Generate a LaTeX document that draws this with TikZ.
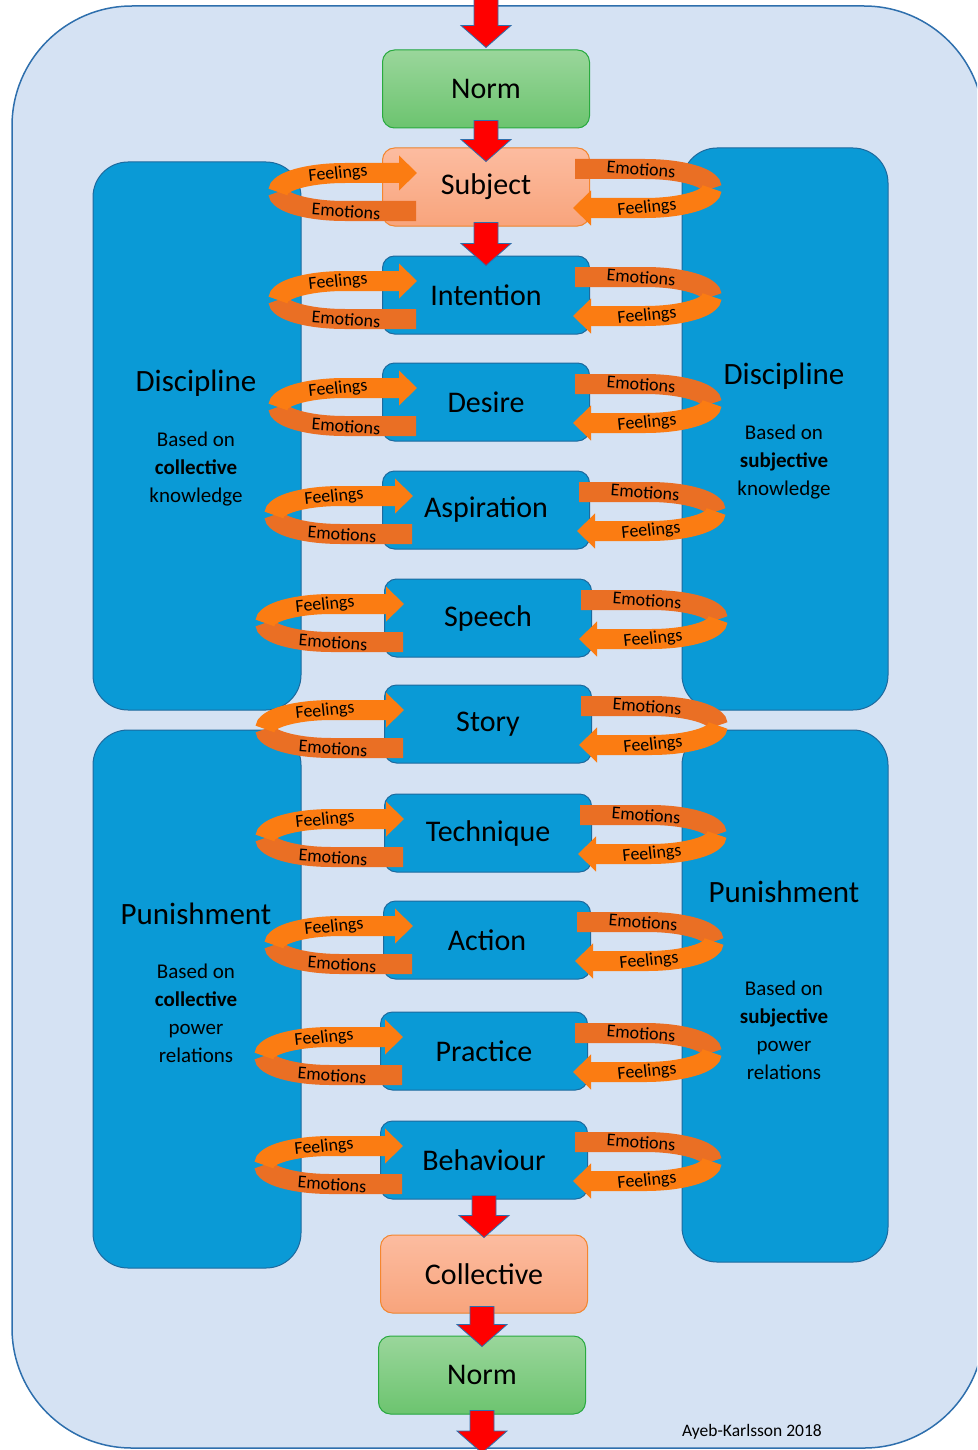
\documentclass[tikz,border=0pt]{standalone}
\usepackage{fontspec}
\setmainfont{Carlito}
\usetikzlibrary{arrows.meta, calc}

\definecolor{bgblue}{HTML}{D5E2F3}
\definecolor{bgline}{HTML}{2E6FAD}
\definecolor{panelblue}{HTML}{0A9AD6}
\definecolor{panelline}{HTML}{1D6A9E}
\definecolor{normtop}{HTML}{9AD69B}
\definecolor{normbot}{HTML}{6CC46F}
\definecolor{normline}{HTML}{2AAA3F}
\definecolor{salmontop}{HTML}{FCBCA0}
\definecolor{salmonbot}{HTML}{F8A47C}
\definecolor{salmonline}{HTML}{F5862E}
\definecolor{ribbonfront}{HTML}{FB7C12}
\definecolor{ribbonback}{HTML}{EA6F24}
\definecolor{arrowred}{HTML}{FF0000}

\tikzset{
  stagebox/.style={draw=panelline, fill=panelblue, line width=1pt, rounded corners=12pt,
    minimum width=207pt, minimum height=78pt, font=\fontsize{30}{36}\selectfont},
  normbox/.style={stagebox, draw=normline, top color=normtop, bottom color=normbot},
  selfbox/.style={stagebox, draw=salmonline, top color=salmontop, bottom color=salmonbot},
  panel/.style={draw=panelline, fill=panelblue, line width=1pt, rounded corners=35pt},
  panelhead/.style={font=\fontsize{31}{36}\selectfont},
  paneltext/.style={align=center, font=\fontsize{21}{28}\selectfont},
  redarrow/.style={fill=arrowred, draw=bgline, line width=0.8pt, line join=miter},
  ribbon/.style={line width=20pt},
  ribbontext/.style={inner sep=0pt, font=\fontsize{18}{20}\selectfont},
  credit/.style={font=\fontsize{17.5}{20}\selectfont},
}

% block arrow from shaft top #1 down to tip #2
\newcommand{\redarrow}[2]{%
  \draw[redarrow] let \p1=#1, \p2=#2 in
    (\x2-12pt,\y1) -- (\x2+12pt,\y1) -- (\x2+12pt,\y2+22pt) -- (\x2+25pt,\y2+22pt)
    -- (\x2,\y2) -- (\x2-25pt,\y2+22pt) -- (\x2-12pt,\y2+22pt) -- cycle;}

% feelings/emotions loops on both sides of a stage box
\newcommand{\feelingloops}[3]{%
  \begin{scope}[shift={(#1.center)}]
    \begin{scope}[xshift=#2]
      \draw[ribbon, ribbonback] (-70,-24) -- (-141,-24)
        arc[start angle=270, end angle=180, x radius=67pt, y radius=19pt];
      \draw[ribbon, ribbonfront, -{Triangle[length=18pt, width=34pt]}] (-208,-5)
        arc[start angle=180, end angle=90, x radius=67pt, y radius=19pt] -- (-69,14);
      \node[ribbontext, rotate=6] at (-148,13) {Feelings};
      \node[ribbontext, rotate=-4] at (-140,-24) {Emotions};
    \end{scope}
    \begin{scope}[xshift=#3]
      \draw[ribbon, ribbonback] (89,18) -- (159,18)
        arc[start angle=90, end angle=0, x radius=67pt, y radius=19.5pt];
      \draw[ribbon, ribbonfront, -{Triangle[length=18pt, width=34pt]}] (226,-1.5)
        arc[start angle=0, end angle=-90, x radius=67pt, y radius=19.5pt] -- (87,-21);
      \node[ribbontext, rotate=-4] at (155,18) {Emotions};
      \node[ribbontext, rotate=6] at (161,-21) {Feelings};
    \end{scope}
  \end{scope}}

\begin{document}
\begin{tikzpicture}[x=1pt, y=1pt]
  \useasboundingbox (0,0) rectangle (977,-1450);
  \clip (0,0) rectangle (977,-1450);

  % Background
  \draw[fill=bgblue, draw=bgline, line width=1.5pt, rounded corners=120pt] (12,-6) rectangle (984,-1448);

  % Side panels
  \draw[panel] (93,-162) rectangle (301,-710);
  \draw[panel] (93,-730) rectangle (301,-1268);
  \draw[panel] (682,-148) rectangle (888,-710);
  \draw[panel] (682,-730) rectangle (888,-1262);

  \node[panelhead] (disc-l) at (196,-383) {Discipline};
  \node[paneltext] (disc-l-txt) at (196,-469) {Based on\\\textbf{collective}\\knowledge};
  \node[panelhead] (disc-r) at (784,-376) {Discipline};
  \node[paneltext] (disc-r-txt) at (784,-462) {Based on\\\textbf{subjective}\\knowledge};
  \node[panelhead] (pun-l) at (196,-914) {Punishment};
  \node[paneltext] (pun-l-txt) at (196,-1013) {Based on\\\textbf{collective}\\power\\relations};
  \node[panelhead] (pun-r) at (784,-892) {Punishment};
  \node[paneltext] (pun-r-txt) at (784,-1030) {Based on\\\textbf{subjective}\\power\\relations};

  % Nodes
  \node[normbox] (norm-in) at (486,-89) {Norm};
  \node[selfbox] (subject) at (486,-187) {Subject};
  \node[stagebox] (intention) at (486,-295) {Intention};
  \node[stagebox] (desire) at (486,-402) {Desire};
  \node[stagebox] (aspiration) at (486,-510) {Aspiration};
  \node[stagebox] (speech) at (488,-618) {Speech};
  \node[stagebox] (story) at (488,-724) {Story};
  \node[stagebox] (technique) at (488,-833) {Technique};
  \node[stagebox] (action) at (487,-940) {Action};
  \node[stagebox] (practice) at (484,-1051) {Practice};
  \node[stagebox] (behaviour) at (484,-1160) {Behaviour};
  \node[selfbox] (collective) at (484,-1274) {Collective};
  \node[normbox] (norm-out) at (482,-1375) {Norm};

  \node[credit] (credit) at (752,-1432) {Ayeb-Karlsson 2018};

  % Arrows
  \coordinate (inflow) at (484,2);
  \coordinate (outflow) at (482,-1453);
  \redarrow{(inflow)}{([yshift=2pt]norm-in.north)}
  \redarrow{([yshift=8pt]norm-in.south)}{([yshift=-14pt]subject.north)}
  \redarrow{([yshift=4pt]subject.south)}{([yshift=-10pt]intention.north)}
  \redarrow{([yshift=4pt]behaviour.south)}{([yshift=-3pt]collective.north)}
  \redarrow{([yshift=7pt]collective.south)}{([yshift=-11pt]norm-out.north)}
  \redarrow{([yshift=4pt]norm-out.south)}{(outflow)}

  % Loops
  \feelingloops{subject}{0}{0}
  \feelingloops{intention}{0}{0}
  \feelingloops{desire}{0}{0}
  \feelingloops{aspiration}{-4}{4}
  \feelingloops{speech}{-15}{4}
  \feelingloops{story}{-15}{4}
  \feelingloops{technique}{-15}{3}
  \feelingloops{action}{-5}{1}
  \feelingloops{practice}{-12}{2}
  \feelingloops{behaviour}{-12}{2}
\end{tikzpicture}
\end{document}
